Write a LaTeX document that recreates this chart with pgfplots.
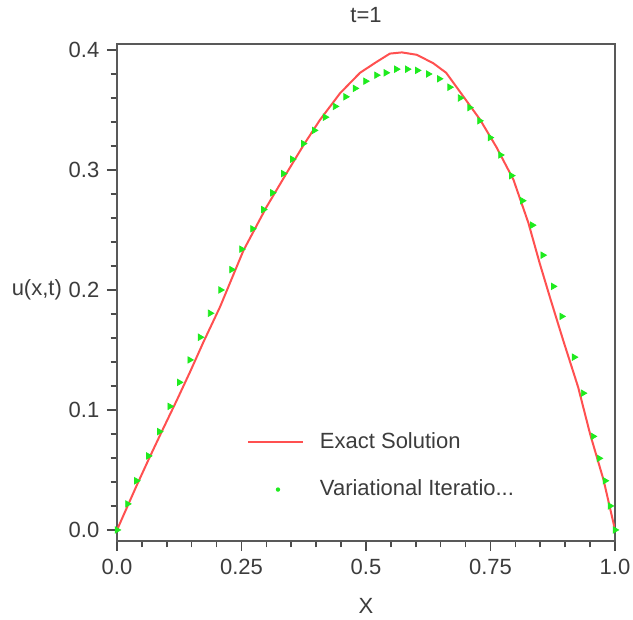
\documentclass[border=0pt]{standalone}
\usepackage{fontspec}
\setmainfont{Liberation Sans}
\usepackage{pgfplots}
\pgfplotsset{compat=1.18}
\definecolor{txt}{RGB}{60,60,60}
\definecolor{exred}{RGB}{255,80,80}
\definecolor{vigreen}{RGB}{30,235,30}
\begin{document}
\fontsize{11}{13}\selectfont
\begin{tikzpicture}
\useasboundingbox (-58.5pt,-39.5pt) rectangle (258pt,270.5pt);
\begin{axis}[
  scale only axis, width=249pt, height=248.5pt,
  xmin=0, xmax=1, ymin=-0.0092, ymax=0.405,
  xtick={0,0.25,0.5,0.75,1}, xticklabels={0.0,0.25,0.5,0.75,1.0},
  minor x tick num=4,
  ytick={0,0.1,0.2,0.3,0.4}, yticklabels={0.0,0.1,0.2,0.3,0.4},
  minor y tick num=4,
  tick align=outside, tick pos=left,
  major tick length=5pt, minor tick length=3.2pt,
  tick style={color=black!70, line width=0.8pt},
  axis line style={color=black!65, line width=0.9pt},
  ticklabel style={font=\fontsize{11}{13}\selectfont, text=txt},
  title={t=1},
  title style={yshift=1pt, text=txt, font=\fontsize{11}{13}\selectfont},
  xlabel={X}, ylabel={u(x,t)},
  every axis x label/.style={at={(axis description cs:0.5,0)}, anchor=north, yshift=-24.7pt, text=txt, font=\fontsize{11}{13}\selectfont},
  every axis y label/.style={at={(axis description cs:0,0.505)}, anchor=east, xshift=-23.7pt, text=txt, font=\fontsize{11}{13}\selectfont},
  legend style={at={(axis description cs:0.261,0.151)}, anchor=west, draw=none, fill=none,
    inner sep=0pt, outer sep=0pt, row sep=14pt, text=txt,
    font=\fontsize{11}{13}\selectfont,
    nodes={inner sep=0pt},
    /tikz/every odd column/.append style={column sep=8pt}},
  legend cell align=left,
]
\addplot[exred, line width=1pt, no markers,
  legend image code/.code={\draw[exred, line width=1pt] (0pt,0pt) -- (27.5pt,0pt);}]
coordinates {
(0,0) (0.040,0.0375) (0.066,0.061) (0.093,0.0847) (0.120,0.108) (0.147,0.132)
(0.174,0.157) (0.207,0.186) (0.254,0.233) (0.300,0.269) (0.340,0.297) (0.375,0.321)
(0.408,0.342) (0.448,0.364) (0.488,0.381) (0.521,0.390) (0.548,0.397) (0.572,0.398)
(0.602,0.396) (0.635,0.389) (0.661,0.381) (0.689,0.365) (0.729,0.342) (0.762,0.319)
(0.796,0.292) (0.826,0.256) (0.849,0.222) (0.870,0.193) (0.896,0.158) (0.926,0.119)
(0.950,0.080) (0.977,0.0417) (0.997,0.0056) (1,0)
};
\addlegendentry{Exact Solution}
\addplot[only marks, mark=triangle*, mark size=1.8pt,
  mark options={rotate=-90, fill=vigreen, draw=vigreen}, color=vigreen,
  legend image code/.code={\path[draw=none, fill=none] (0pt,0pt) rectangle (27.5pt,0.1pt); \fill[vigreen, draw=none] (15pt,0pt) circle (1.1pt);}]
coordinates {
(0,0) (0.021,0.0217) (0.039,0.041) (0.063,0.0617) (0.085,0.082) (0.106,0.103)
(0.125,0.123) (0.146,0.1417) (0.167,0.1606) (0.187,0.1806) (0.208,0.200) (0.230,0.217)
(0.250,0.234) (0.272,0.251) (0.294,0.267) (0.312,0.281) (0.334,0.297) (0.352,0.309)
(0.374,0.322) (0.396,0.333) (0.418,0.344) (0.438,0.353) (0.459,0.361) (0.478,0.368)
(0.499,0.374) (0.521,0.379) (0.540,0.381) (0.561,0.384) (0.583,0.384) (0.603,0.383)
(0.625,0.380) (0.647,0.376) (0.668,0.369) (0.689,0.360) (0.708,0.352) (0.728,0.341)
(0.749,0.327) (0.770,0.3125) (0.792,0.2953) (0.814,0.2744) (0.834,0.254) (0.855,0.229)
(0.876,0.203) (0.893,0.178) (0.918,0.144) (0.936,0.114) (0.956,0.078) (0.968,0.0597)
(0.980,0.041) (0.990,0.020) (1.0,0)
};
\addlegendentry{Variational Iteratio...}
\end{axis}
\end{tikzpicture}
\end{document}
